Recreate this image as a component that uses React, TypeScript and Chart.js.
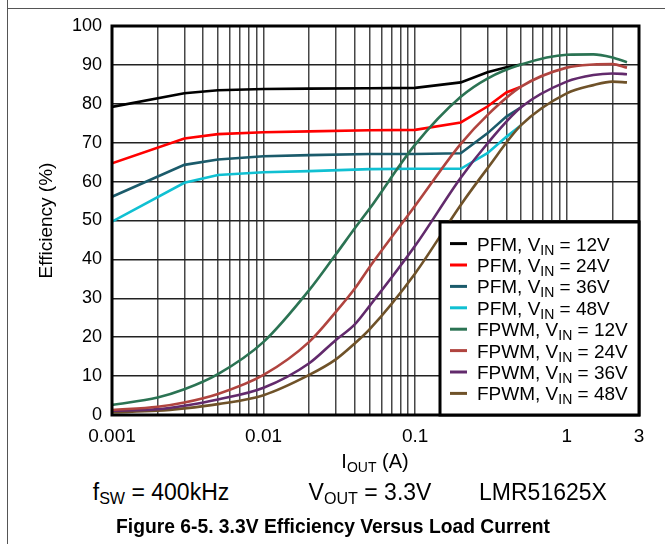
import React, { useEffect, useRef } from 'react';
import { Chart, registerables } from 'chart.js';

Chart.register(...registerables);

const FAMILY = "'Liberation Sans', Arial, Helvetica, sans-serif";

// Load current (A) sample points
const PFM_X = [0.001, 0.003, 0.005, 0.01, 0.02, 0.05, 0.1, 0.2, 0.3, 0.4, 0.5];
const FPWM_X = [0.001, 0.002, 0.003, 0.005, 0.01, 0.02, 0.03, 0.04, 0.05, 0.1, 0.2, 0.3, 0.5, 1, 1.5, 2, 2.5];

// Efficiency (%)
const PFM_12 = [79.2, 82.7, 83.5, 83.8, 83.9, 84.0, 84.1, 85.5, 88.1, 89.4, 90.1];
const PFM_24 = [64.7, 71.1, 72.2, 72.7, 72.9, 73.2, 73.3, 75.2, 79.3, 82.9, 84.4];
const PFM_36 = [56.1, 64.3, 65.7, 66.5, 66.8, 67.1, 67.1, 67.3, 72.4, 76.7, 79.1];
const PFM_48 = [49.7, 59.7, 61.7, 62.4, 62.7, 63.2, 63.3, 63.3, 67.3, 71.5, 74.5];

const FPWM_12 = [2.6, 4.5, 6.6, 10.5, 18.8, 32.1, 41.3, 48, 53, 69.5, 81.8, 86.5, 90.1, 92.6, 92.7, 91.9, 90.7];
const FPWM_24 = [1.3, 2.1, 3.2, 5.4, 10.3, 18.8, 26.5, 32.5, 38, 53.8, 69.7, 77.1, 84.4, 89.3, 90.1, 90.2, 89.3];
const FPWM_36 = [1.1, 1.5, 2.4, 4.0, 7.0, 13.3, 19.3, 23.3, 28, 43.5, 61, 69.8, 79.1, 85.7, 87.4, 87.8, 87.6];
const FPWM_48 = [0.7, 1.1, 1.7, 2.8, 5.1, 10.3, 14.3, 18.4, 22, 36.4, 54, 63.4, 74.5, 82.7, 84.8, 85.7, 85.5];

const MODES = ['PFM', 'PFM', 'PFM', 'PFM', 'FPWM', 'FPWM', 'FPWM', 'FPWM'];
const VIN = ['12V', '24V', '36V', '48V', '12V', '24V', '36V', '48V'];
const COLORS = ['#000000', '#ff0000', '#1b5b6b', '#10c0d2', '#2b7353', '#b0443f', '#622a6c', '#6f5229'];

// Axis ticks
const X_GRID = [
  0.001, 0.002, 0.003, 0.004, 0.005, 0.006, 0.007, 0.008, 0.009,
  0.01, 0.02, 0.03, 0.04, 0.05, 0.06, 0.07, 0.08, 0.09,
  0.1, 0.2, 0.3, 0.4, 0.5, 0.6, 0.7, 0.8, 0.9,
  1, 2, 3,
];
const X_LABEL_VALUES = [0.001, 0.01, 0.1, 1, 3];
const X_LABELS = ['0.001', '0.01', '0.1', '1', '3'];
const Y_MIN = 0;
const Y_MAX = 100;
const Y_STEP = 10;

const SERIES_X = [PFM_X, PFM_X, PFM_X, PFM_X, FPWM_X, FPWM_X, FPWM_X, FPWM_X];
const SERIES_Y = [PFM_12, PFM_24, PFM_36, PFM_48, FPWM_12, FPWM_24, FPWM_36, FPWM_48];

const framePlugin = {
  id: 'plotFrame',
  afterDatasetsDraw(chart: any) {
    const { ctx, chartArea } = chart;
    ctx.save();
    ctx.lineWidth = 3;
    ctx.strokeStyle = '#000';
    ctx.strokeRect(chartArea.left, chartArea.top, chartArea.right - chartArea.left, chartArea.bottom - chartArea.top);
    ctx.restore();
  },
};

const legendPlugin = {
  id: 'boxLegend',
  afterDraw(chart: any) {
    const { ctx, chartArea } = chart;
    const w = 199;
    const h = 193;
    const x0 = chartArea.right - w;
    const y0 = chartArea.bottom - h;
    ctx.save();
    ctx.fillStyle = '#fff';
    ctx.fillRect(x0, y0, w, h);
    ctx.lineWidth = 3;
    ctx.strokeStyle = '#000';
    ctx.strokeRect(x0, y0, w, h);
    ctx.textBaseline = 'alphabetic';
    ctx.textAlign = 'left';
    ctx.fillStyle = '#000';
    for (let i = 0; i < MODES.length; i++) {
      const base = y0 + 28.6 + i * 21.4;
      const cy = base - 7;
      ctx.strokeStyle = COLORS[i];
      ctx.lineWidth = 3;
      ctx.beginPath();
      ctx.moveTo(x0 + 10, cy);
      ctx.lineTo(x0 + 27, cy);
      ctx.stroke();
      let tx = x0 + 37;
      ctx.font = `19px ${FAMILY}`;
      const pre = `${MODES[i]}, V`;
      ctx.fillText(pre, tx, base);
      tx += ctx.measureText(pre).width;
      ctx.font = `14px ${FAMILY}`;
      ctx.fillText('IN', tx, base + 4);
      tx += ctx.measureText('IN').width;
      ctx.font = `19px ${FAMILY}`;
      ctx.fillText(` = ${VIN[i]}`, tx, base);
    }
    ctx.restore();
  },
};

const subStyle: React.CSSProperties = { fontSize: '70%', verticalAlign: '-0.25em', lineHeight: 0 };

function TextAt(props: { cx: number; cy: number; bold?: boolean; size?: number; children: React.ReactNode }) {
  const { cx, cy, bold, size = 18, children } = props;
  return (
    <div
      style={{
        position: 'absolute',
        left: cx - 250,
        width: 500,
        top: cy - 14,
        height: 28,
        lineHeight: '28px',
        textAlign: 'center',
        fontFamily: FAMILY,
        fontSize: size,
        fontWeight: bold ? 'bold' : 'normal',
        color: '#000',
        whiteSpace: 'nowrap',
      }}
    >
      {children}
    </div>
  );
}

export default function App() {
  const ref = useRef<HTMLCanvasElement | null>(null);

  useEffect(() => {
    if (!ref.current) return;
    Chart.defaults.font.family = FAMILY;
    const datasets = SERIES_Y.map((ys, i) => ({
      label: `${MODES[i]}, VIN = ${VIN[i]}`,
      data: ys.map((y, j) => ({ x: SERIES_X[i][j], y })),
      borderColor: COLORS[i],
      backgroundColor: COLORS[i],
      borderWidth: 2.6,
      pointRadius: 0,
      fill: false,
      order: MODES[i] === 'FPWM' ? 0 : 1,
      cubicInterpolationMode: MODES[i] === 'FPWM' ? ('monotone' as const) : ('default' as const),
      tension: 0,
    }));
    const chart = new Chart(ref.current, {
      type: 'line',
      data: { datasets },
      options: {
        animation: false,
        responsive: false,
        devicePixelRatio: 1,
        layout: { padding: { left: 0, right: 26, top: 26, bottom: 0 } },
        plugins: { legend: { display: false }, tooltip: { enabled: false } },
        elements: { point: { radius: 0 } },
        scales: {
          x: {
            type: 'logarithmic',
            min: 0.001,
            max: 3,
            border: { display: false },
            afterBuildTicks: (axis: any) => {
              axis.ticks = X_GRID.map((v) => ({ value: v }));
            },
            afterFit: (axis: any) => {
              axis.height = 35;
            },
            grid: { drawTicks: false, color: '#474747', lineWidth: 1.5 },
            ticks: {
              autoSkip: false,
              maxRotation: 0,
              minRotation: 0,
              padding: 10,
              color: '#000',
              font: { size: 19, family: FAMILY },
              callback: (v: any) => {
                const k = X_LABEL_VALUES.indexOf(Number(v));
                return k >= 0 ? X_LABELS[k] : '';
              },
            },
          },
          y: {
            type: 'linear',
            min: Y_MIN,
            max: Y_MAX,
            border: { display: false },
            afterFit: (axis: any) => {
              axis.width = 112;
            },
            grid: { drawTicks: false, color: '#222', lineWidth: 1.5 },
            ticks: {
              stepSize: Y_STEP,
              padding: 10,
              color: '#000',
              font: { size: 18, family: FAMILY },
            },
            title: {
              display: true,
              text: 'Efficiency (%)',
              color: '#000',
              font: { size: 19, family: FAMILY },
              padding: { top: 35, bottom: 0 },
            },
          },
        },
      },
      plugins: [framePlugin, legendPlugin],
    } as any);
    return () => chart.destroy();
  }, []);

  return (
    <div style={{ position: 'absolute', left: 0, top: 0, width: 665, height: 544, background: '#fff', overflow: 'hidden' }}>
      <div style={{ position: 'absolute', left: 7, top: 0, width: 1, height: 544, background: '#555' }} />
      <div style={{ position: 'absolute', left: 7, top: 8, width: 658, height: 1, background: '#555' }} />
      <canvas ref={ref} width={665} height={450} style={{ position: 'absolute', left: 0, top: 0, width: 665, height: 450 }} />
      <TextAt cx={375} cy={461} size={20}>
        I<sub style={subStyle}>OUT</sub> (A)
      </TextAt>
      <TextAt cx={161} cy={492} size={23}>
        f<sub style={subStyle}>SW</sub> = 400kHz
      </TextAt>
      <TextAt cx={370} cy={492} size={23}>
        V<sub style={subStyle}>OUT</sub> = 3.3V
      </TextAt>
      <TextAt cx={543} cy={492} size={23}>
        LMR51625X
      </TextAt>
      <TextAt cx={333} cy={527} bold size={19.3}>
        Figure 6-5. 3.3V Efficiency Versus Load Current
      </TextAt>
    </div>
  );
}
